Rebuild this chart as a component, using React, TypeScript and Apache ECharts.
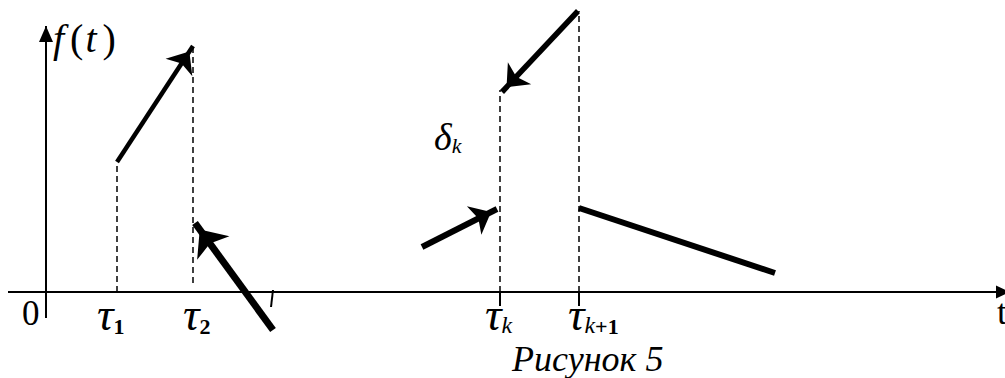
import React, { useEffect, useRef } from "react";
import * as echarts from "echarts";

// Data coordinates: 1 unit = 10 px, origin at the crossing of the axes
const tauValues = [7.1, 14.7, 45.4, 53.3];
const tauSubscripts = ["1", "2", "k", "k+1"];

const arrowFrom = [
  [7.1, 13.0],
  [22.7, -3.8],
  [53.2, 28.1],
  [37.6, 4.5],
];
const arrowTo = [
  [14.7, 24.6],
  [14.9, 6.9],
  [45.6, 20.0],
  [45.1, 8.3],
];
const arrowWidths = [4.5, 7, 5.5, 6];

const plainFrom = [53.3, 8.4];
const plainTo = [72.9, 1.9];

const dashTop = [13.0, 24.9, 20.2, 28.1];
const dashBottom = [0, 0.9, 0, 0];

const xAxisRange = [-3.8, 95.9];
const yAxisRange = [-2.6, 26.6];

const X_MIN = -4.6;
const X_MAX = 95.9;
const Y_MIN = -8.6;
const Y_MAX = 29.2;

export default function App() {
  const ref = useRef<HTMLDivElement>(null);

  useEffect(() => {
    document.body.style.margin = "0";
    const chart = echarts.init(ref.current!, null, { renderer: "svg" });

    const black = "#000";
    const markData: any[] = [];

    // axes
    markData.push([
      { coord: [xAxisRange[0], 0], symbol: "none", lineStyle: { color: black, width: 2, type: "solid" } },
      { coord: [xAxisRange[1], 0], symbol: "triangle", symbolSize: [13, 14], symbolOffset: [0, 2] },
    ]);
    markData.push([
      { coord: [0, yAxisRange[0]], symbol: "none", lineStyle: { color: black, width: 2, type: "solid" } },
      { coord: [0, yAxisRange[1]], symbol: "triangle", symbolSize: [14, 16], symbolOffset: [0, 8] },
    ]);

    // dashed verticals
    tauValues.forEach((t, i) => {
      markData.push([
        { coord: [t, dashBottom[i]], symbol: "none", lineStyle: { color: black, width: 1.5, type: [6, 4] } },
        { coord: [t, dashTop[i]], symbol: "none" },
      ]);
    });

    // small ticks under axis at tau_k, tau_k+1
    [2, 3].forEach((i) => {
      markData.push([
        { coord: [tauValues[i], 0], symbol: "none", lineStyle: { color: black, width: 2, type: "solid" } },
        { coord: [tauValues[i], -1.4], symbol: "none" },
      ]);
    });
    // slanted small tick
    markData.push([
      { coord: [22.5, -1.5], symbol: "none", lineStyle: { color: black, width: 2, type: "solid" } },
      { coord: [22.7, 0.2], symbol: "none" },
    ]);

    // arrows
    arrowFrom.forEach((f, i) => {
      const w = arrowWidths[i];
      const size = i === 1 ? [30, 23] : [24, 19];
      markData.push([
        { coord: f, symbol: "none", lineStyle: { color: black, width: w, type: "solid", cap: "butt" } },
        { coord: arrowTo[i], symbol: "arrow", symbolSize: size, symbolOffset: [0, size[1] * 0.35] },
      ]);
    });
    // plain segment
    markData.push([
      { coord: plainFrom, symbol: "none", lineStyle: { color: black, width: 6, type: "solid", cap: "butt" } },
      { coord: plainTo, symbol: "none" },
    ]);

    chart.setOption({
      animation: false,
      grid: { left: 0, right: 0, top: 0, bottom: 0 },
      xAxis: { type: "value", min: X_MIN, max: X_MAX, show: false },
      yAxis: { type: "value", min: Y_MIN, max: Y_MAX, show: false },
      series: [
        {
          type: "line",
          data: [],
          silent: true,
          markLine: {
            silent: true,
            symbol: ["none", "none"],
            label: { show: false },
            emphasis: { disabled: true },
            data: markData,
          },
        },
      ],
    });

    const serif = "Liberation Serif";
    const tok = (size: number, italic: boolean, extra: any = {}) => ({
      fontFamily: serif,
      fontStyle: italic ? "italic" : "normal",
      fontSize: size,
      lineHeight: size,
      fill: black,
      color: black,
      ...extra,
    });
    const rich = {
      tau: tok(46, true),
      sub: tok(22, false, { fontWeight: "bold", verticalAlign: "bottom" }),
      subi: tok(24, true, { verticalAlign: "bottom", lineHeight: 22 }),
      it: tok(40, true),
      up: tok(40, false, { padding: [0, 2, 0, 6] }),
      del: tok(38, true),
      dsub: tok(22, true, { verticalAlign: "bottom", lineHeight: 20 }),
    };

    const px = (p: number[]) => chart.convertToPixel({ gridIndex: 0 }, p) as number[];

    const subText = (s: string) => {
      if (s === "k+1") return "{subi|k}{sub|+1}";
      if (s === "k") return "{subi|k}";
      return "{sub|" + s + "}";
    };

    const texts: any[] = [];
    const addText = (anchor: number[], offset: number[], text: string, extraStyle: any = {}) => {
      const p = px(anchor);
      texts.push({
        type: "text",
        x: p[0] + offset[0],
        y: p[1] + offset[1],
        silent: true,
        style: { text, align: "left", verticalAlign: "top", rich, fill: black, ...extraStyle },
      });
    };

    const tauOffsets = [-20, -10, -15, -11];
    tauValues.forEach((t, i) => {
      addText([t, 0], [tauOffsets[i], -1], "{tau|τ}" + subText(tauSubscripts[i]));
    });
    addText([0, yAxisRange[1]], [7, -8], "{it|f}{up|(}{it|t}{up|)}");
    addText(arrowTo[3], [-63, -91], "{del|δ}{dsub|k}");
    addText([0, 0], [-24, 4], "0", { fontFamily: serif, fontSize: 35, lineHeight: 35 });
    addText([xAxisRange[1], 0], [-8, 2], "t", { fontFamily: serif, fontSize: 36, lineHeight: 36 });
    texts.push({
      type: "text",
      x: 512,
      y: 341,
      silent: true,
      style: {
        text: "Рисунок 5",
        fontFamily: serif,
        fontStyle: "italic",
        fontSize: 36,
        lineHeight: 36,
        fill: black,
        align: "left",
        verticalAlign: "top",
      },
    });

    chart.setOption({ graphic: texts });

    return () => chart.dispose();
  }, []);

  return <div ref={ref} style={{ width: 1005, height: 378 }} />;
}
